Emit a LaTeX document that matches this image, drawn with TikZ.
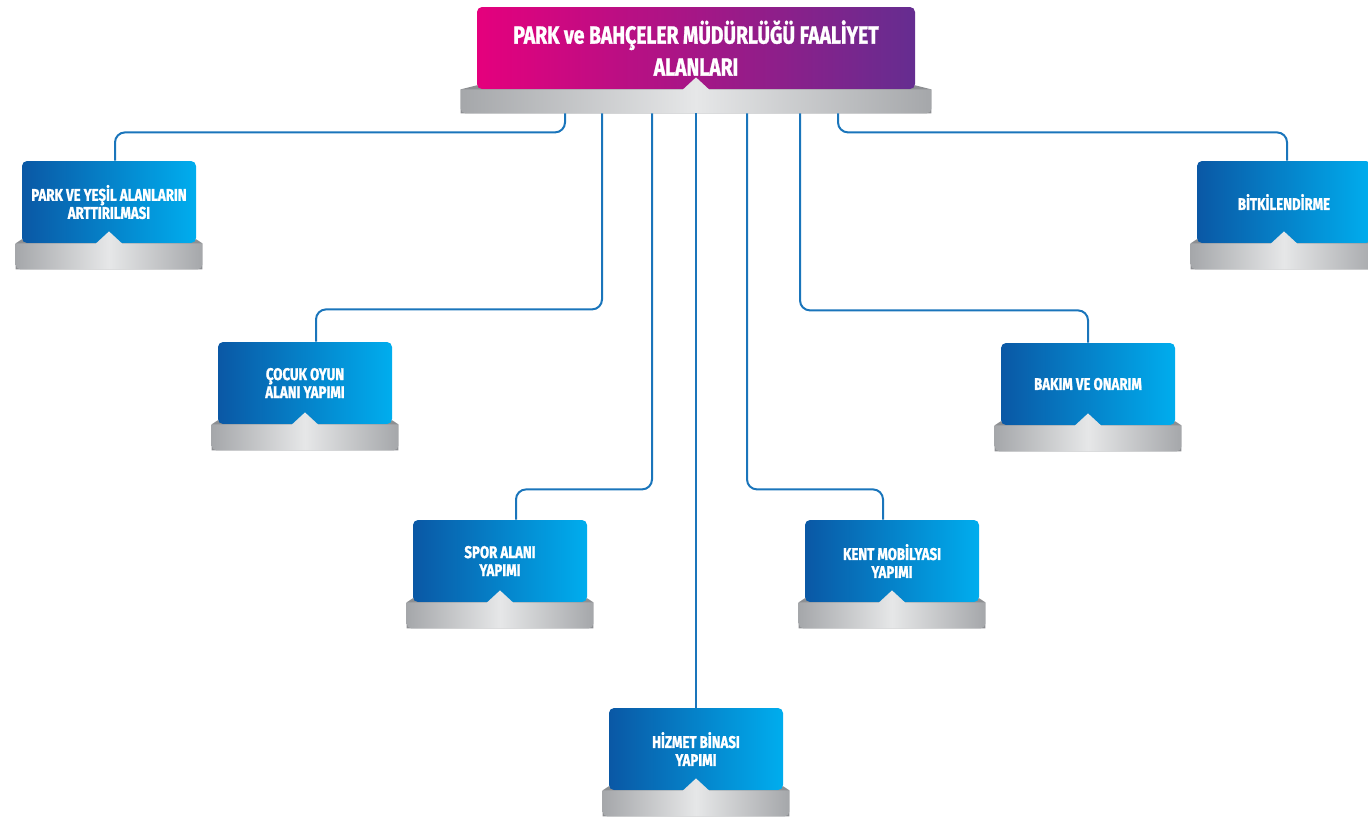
\documentclass[tikz,border=0pt]{standalone}
\usepackage{fontspec}
\usepackage{tikz}
\usetikzlibrary{backgrounds}
\newfontfamily\kutufont[FakeStretch=0.78,FakeBold=1.2]{Fira Sans}

\definecolor{koyumavi}{HTML}{0A58A5}
\definecolor{acikmavi}{HTML}{00ADEE}
\definecolor{pembe}{HTML}{E5007D}
\definecolor{mor}{HTML}{652D90}
\definecolor{tepsigri}{HTML}{A5A7AA}
\definecolor{tepsiacik}{HTML}{E6E7E8}
\definecolor{tepsiarka}{HTML}{8D8F92}
\definecolor{cizgi}{HTML}{1A75BB}

\tikzset{
  kutu/.style={rounded corners=2.5pt, left color=koyumavi, right color=acikmavi,
    minimum width=87pt, minimum height=41pt, inner sep=0pt, text=white, align=center,
    font=\kutufont\bfseries\fontsize{8.5}{9}\selectfont},
  anakutu/.style={kutu, left color=pembe, right color=mor, minimum width=219pt,
    font=\kutufont\bfseries\fontsize{12.4}{16}\selectfont},
  onyuz/.style={left color=tepsigri, right color=tepsigri, middle color=tepsiacik},
  baglanti/.style={draw=cizgi, line width=1pt, rounded corners=5pt}
}

% #1 node, #2 side offset, #3 depth (px)
\newcommand{\tepsi}[3]{%
  \begin{scope}[on background layer]
  \fill[tepsiarka] ([shift={(0,-4)}]#1.south west) -- ([shift={(0,-4)}]#1.south east)
    -- ([shift={(#2,0)}]#1.south east) -- ([shift={(#2,#3)}]#1.south east)
    -- ([shift={(-#2,#3)}]#1.south west) -- ([shift={(-#2,0)}]#1.south west) -- cycle;
  \end{scope}
  \path[onyuz] ([shift={(-#2,0)}]#1.south west) -- ([shift={(-13,0)}]#1.south)
    -- ([shift={(0,-12)}]#1.south) -- ([shift={(13,0)}]#1.south)
    -- ([shift={(#2,0)}]#1.south east) [rounded corners=2.5pt] -- ([shift={(#2,#3)}]#1.south east)
    -- ([shift={(-#2,#3)}]#1.south west) [sharp corners] -- cycle;
}

\begin{document}
\begin{tikzpicture}[x=0.5pt,y=-0.5pt]
\useasboundingbox (0,0) rectangle (1368,816);
\clip (0,0) rectangle (1368,816);

\node[anakutu] (ust) at (696,48) {PARK ve BAHÇELER MÜDÜRLÜĞÜ FAALİYET\\ALANLARI};
\node[kutu] (park) at (109,202) {PARK VE YEŞİL ALANLARIN\\ARTTIRILMASI};
\node[kutu] (cocuk) at (305,383) {ÇOCUK OYUN\\ALANI YAPIMI};
\node[kutu] (spor) at (500,561) {SPOR ALANI\\YAPIMI};
\node[kutu] (hizmet) at (696,749) {HİZMET BİNASI\\YAPIMI};
\node[kutu] (kent) at (892,561) {KENT MOBİLYASI\\YAPIMI};
\node[kutu] (bakim) at (1088,384) {BAKIM VE ONARIM};
\node[kutu] (bitki) at (1284,202) {BİTKİLENDİRME};

\tepsi{ust}{16}{24}
\foreach \n in {park,cocuk,spor,hizmet,kent,bakim,bitki} {
  \tepsi{\n}{6}{26}
}

\foreach \dx/\dy/\hedef/\kay in {-131/19/park/3pt, -94/196/cocuk/5.5pt, -44/376/spor/8pt,
    51/376/kent/-4.5pt, 104/197/bakim/0pt, 142/19/bitki/1.5pt} {
  \draw[baglanti] ([shift={(\dx,24)}]ust.south) -- ++(0,\dy) -| ([xshift=\kay]\hedef.north);
}
\draw[baglanti] ([shift={(0,24)}]ust.south) -- (hizmet.north);
\end{tikzpicture}
\end{document}
